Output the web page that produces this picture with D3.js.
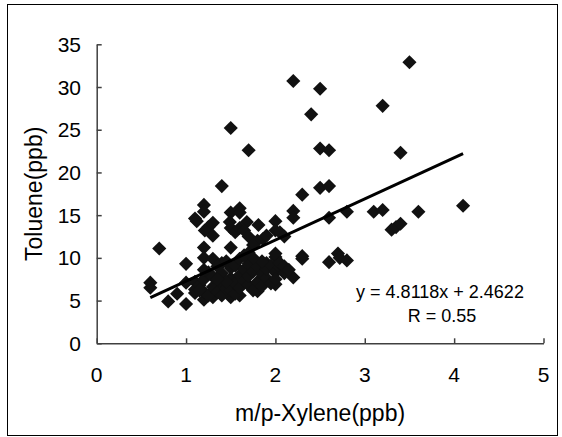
<!DOCTYPE html>
<html>
<head>
<meta charset="utf-8">
<script src="https://cdn.jsdelivr.net/npm/d3@7"></script>
<style>
  html, body { margin: 0; padding: 0; background: #fff; }
  svg { display: block; font-family: "Liberation Sans", Arial, sans-serif; }
</style>
</head>
<body>
<svg id="chart" width="562" height="437"></svg>
<script>
// Toluene vs m/p-Xylene scatter with linear fit

const xylene = [
  3.5, 2.2, 2.5, 3.2, 2.4, 1.5, 1.7, 2.5, 2.6, 3.4, 1.4, 2.5, 2.6, 2.3, 4.1,
  1.2, 1.2, 2.2, 2.2, 2.8, 3.1, 3.2, 3.6, 2.6, 3.3, 3.35, 3.4,
  1.1, 1.12, 1.5, 1.6, 1.6, 1.3, 1.25, 1.21, 1.3, 1.49, 1.5, 1.55, 1.6, 1.68, 1.65, 1.7, 1.81, 1.9, 1.86, 2.0, 2.0, 2.05, 2.1, 1.8, 1.75,
  1.2, 1.5, 0.7, 1.0, 1.2, 1.3, 1.4, 1.7, 2.0, 2.0, 2.3, 2.3, 2.6, 2.7, 2.72, 2.8, 2.2,
  0.6, 0.6, 0.8, 0.9, 1.0, 1.0, 1.1, 1.1, 1.2, 1.3, 1.5, 1.6, 1.8, 2.0,
  1.1, 1.15, 1.2, 1.2, 1.25, 1.25, 1.3, 1.3, 1.35, 1.35, 1.4, 1.4, 1.4, 1.45, 1.45, 1.5, 1.5, 1.5,
  1.55, 1.55, 1.55, 1.6, 1.6, 1.6, 1.65, 1.65, 1.7, 1.7, 1.7, 1.75, 1.75, 1.8, 1.8, 1.85, 1.85,
  1.9, 1.9, 1.9, 1.95, 1.95, 2.0, 2.0, 2.05, 2.05, 2.1, 2.1, 2.15, 1.85, 1.75, 1.65, 1.45, 1.35, 1.2, 1.15
];

const toluene = [
  32.9, 30.7, 29.8, 27.8, 26.8, 25.2, 22.6, 22.8, 22.6, 22.3, 18.4, 18.2, 18.4, 17.4, 16.1,
  16.2, 15.4, 15.5, 14.7, 15.4, 15.4, 15.6, 15.4, 14.7, 13.3, 13.6, 14.0,
  14.6, 14.3, 15.3, 15.8, 15.3, 14.1, 13.6, 13.2, 12.6, 14.2, 13.5, 13.0, 13.5, 14.2, 13.2, 12.5, 13.85, 12.6, 12.2, 14.3, 13.2, 13.0, 12.5, 12.0, 11.5,
  11.2, 11.2, 11.1, 9.3, 10.0, 9.9, 9.4, 10.6, 10.1, 10.5, 10.2, 9.9, 9.5, 10.5, 10.0, 9.7, 7.7,
  7.1, 6.5, 4.9, 5.8, 4.6, 7.1, 5.9, 6.3, 5.1, 5.4, 5.4, 5.6, 6.1, 6.9,
  7.2, 6.8, 6.0, 7.5, 8.3, 5.6, 6.6, 7.8, 9.0, 6.0, 5.6, 7.0, 8.2, 6.4, 9.6, 7.6, 8.8, 6.2,
  5.8, 7.0, 9.1, 8.0, 6.5, 9.9, 7.3, 8.6, 6.8, 9.3, 7.9, 6.2, 8.4, 7.2, 9.0, 8.1, 6.7,
  9.4, 7.6, 8.7, 7.0, 9.1, 8.3, 7.5, 8.9, 9.4, 8.2, 9.0, 8.6, 9.6, 10.0, 10.3, 7.2, 7.5, 8.6, 6.2
];

const xTicks = [0, 1, 2, 3, 4, 5];
const yTicks = [0, 5, 10, 15, 20, 25, 30, 35];

// fit shown on the chart
const slope = 4.8118;
const intercept = 2.4622;
const fitRange = [0.6, 4.1];
const fitLabel = 'y  = 4.8118x + 2.4622';
const rLabel = 'R = 0.55';

const svg = d3.select('#chart');
const W = 562, H = 437;
const plot = { left: 96.7, right: 543.5, top: 44.3, bottom: 343.3 };

const x = d3.scaleLinear().domain([0, 5]).range([plot.left, plot.right]);
const y = d3.scaleLinear().domain([0, 35]).range([plot.bottom, plot.top]);

// outer frame
svg.append('rect')
  .attr('x', 7.5).attr('y', 4.5)
  .attr('width', 550).attr('height', 431)
  .attr('fill', 'none')
  .attr('stroke', '#000')
  .attr('stroke-width', 1);

// points
const points = xylene.map((d, i) => ({ x: d, y: toluene[i] }));
const diamond = d3.symbol().type(d3.symbolSquare).size(100);

svg.append('g')
  .selectAll('path')
  .data(points)
  .join('path')
  .attr('d', diamond)
  .attr('transform', d => `translate(${x(d.x)},${y(d.y)}) rotate(45)`)
  .attr('fill', '#111');

// regression line
const line = d3.line().x(d => x(d)).y(d => y(slope * d + intercept));
svg.append('path')
  .datum(fitRange)
  .attr('d', line)
  .attr('fill', 'none')
  .attr('stroke', '#000')
  .attr('stroke-width', 3);

// axes
const axisColor = '#404040';

const xAxis = svg.append('g')
  .attr('transform', `translate(0,${plot.bottom})`)
  .call(d3.axisBottom(x).tickValues(xTicks).tickSizeInner(-5).tickSizeOuter(0).tickFormat(''));
xAxis.selectAll('line, path').attr('stroke', axisColor).attr('stroke-width', 1.5);

const yAxis = svg.append('g')
  .attr('transform', `translate(${plot.left},0)`)
  .call(d3.axisLeft(y).tickValues(yTicks).tickSizeInner(-5).tickSizeOuter(0).tickFormat(''));
yAxis.selectAll('line, path').attr('stroke', axisColor).attr('stroke-width', 1.5);

// tick labels
svg.append('g')
  .selectAll('text')
  .data(xTicks)
  .join('text')
  .attr('x', d => x(d))
  .attr('y', 382)
  .attr('text-anchor', 'middle')
  .style('font-size', '21px')
  .text(d => d);

svg.append('g')
  .selectAll('text')
  .data(yTicks)
  .join('text')
  .attr('x', 81)
  .attr('y', d => y(d) + 7.5)
  .attr('text-anchor', 'end')
  .style('font-size', '21px')
  .text(d => d);

// axis titles
svg.append('text')
  .attr('x', (plot.left + plot.right) / 2)
  .attr('y', 421)
  .attr('text-anchor', 'middle')
  .style('font-size', '23px')
  .text('m/p-Xylene(ppb)');

svg.append('text')
  .attr('transform', `translate(42,${(plot.top + plot.bottom) / 2}) rotate(-90)`)
  .attr('text-anchor', 'middle')
  .style('font-size', '23px')
  .text('Toluene(ppb)');

// fit annotation
svg.append('text')
  .attr('x', 440).attr('y', 298)
  .attr('text-anchor', 'middle')
  .style('font-size', '18px')
  .text(fitLabel);

svg.append('text')
  .attr('x', 442).attr('y', 322)
  .attr('text-anchor', 'middle')
  .style('font-size', '18px')
  .text(rLabel);
</script>
</body>
</html>
